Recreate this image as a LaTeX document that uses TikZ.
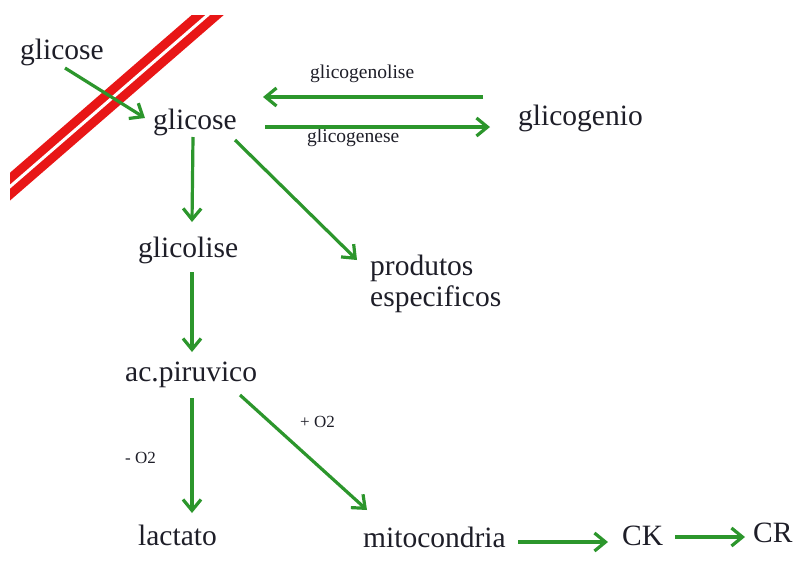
\documentclass[tikz,border=0pt]{standalone}
\usepackage{fontspec}
\setmainfont{Liberation Serif}
\usetikzlibrary{arrows.meta}
\definecolor{arrgreen}{RGB}{44,150,44}
\definecolor{stripred}{RGB}{232,22,22}
\definecolor{txt}{RGB}{30,30,40}
\begin{document}
\begin{tikzpicture}[x=1pt,y=-1pt,
  big/.style={anchor=base west,inner sep=0pt,text=txt,font=\fontsize{29.5}{32}\selectfont},
  small/.style={anchor=base west,inner sep=0pt,text=txt,font=\fontsize{19.5}{22}\selectfont},
  tiny/.style={anchor=base west,inner sep=0pt,text=txt,font=\fontsize{17}{20}\selectfont},
  arr/.style={draw=arrgreen,line width=3.2pt,-{Straight Barb[length=11pt,width=18pt,line width=3.2pt]}}]
\useasboundingbox (0,0) rectangle (807,563);
\fill[white] (0,0) rectangle (807,563);
% red stripe
\begin{scope}
\clip (10,15) rectangle (807,563);
\coordinate (sA) at (-25,217);
\coordinate (sB) at (240,-13);
\draw[stripred,line width=21pt] (sA) -- (sB);
\draw[white,line width=3pt] (sA) -- (sB);
\end{scope}
% nodes
\node[big] (g0) at (20,59) {glicose};
\node[big] (g1) at (153,129) {glicose};
\node[big] (gen) at (518,125) {glicogenio};
\node[small] (lgl) at (310,78) {glicogenolise};
\node[small] (lgs) at (307,142) {glicogenese};
\node[big] (gl) at (138,257) {glicolise};
\node[big] (prod) at (370,275) {produtos};
\node[big] (esp) at (370,306) {especificos};
\node[big] (pir) at (125,381) {ac.piruvico};
\node[tiny] (lm) at (125,463) {- O2};
\node[tiny] (lp) at (300,427) {+ O2};
\node[big] (lac) at (138,545) {lactato};
\node[big] (mit) at (363,547) {mitocondria};
\node[big] (ck) at (622,545) {CK};
\node[big] (cr) at (753,542) {CR};
% connectors
\draw[arr] ([shift={(45,9)}]g0.base west) -- ([shift={(-8,-11)}]g1.base west);
\draw[arr] ([shift={(-35,-28)}]gen.base west) -- ([shift={(110,-32)}]g1.base west);
\draw[arr] ([shift={(112,-2)}]g1.base west) -- ([shift={(-28,2)}]gen.base west);
\draw[arr] ([shift={(40,8)}]g1.base west) -- ([shift={(54,-35)}]gl.base west);
\draw[arr] ([shift={(82,11)}]g1.base west) -- ([shift={(-13,-15)}]prod.base west);
\draw[arr] ([shift={(54,15)}]gl.base west) -- ([shift={(67,-29)}]pir.base west);
\draw[arr] ([shift={(67,17)}]pir.base west) -- ([shift={(54,-32)}]lac.base west);
\draw[arr] ([shift={(115,14)}]pir.base west) -- ([shift={(4,-37)}]mit.base west);
\draw[arr] ([shift={(155,-5)}]mit.base west) -- ([shift={(-14,-3)}]ck.base west);
\draw[arr] ([shift={(53,-8)}]ck.base west) -- ([shift={(-8,-5)}]cr.base west);
\end{tikzpicture}
\end{document}
